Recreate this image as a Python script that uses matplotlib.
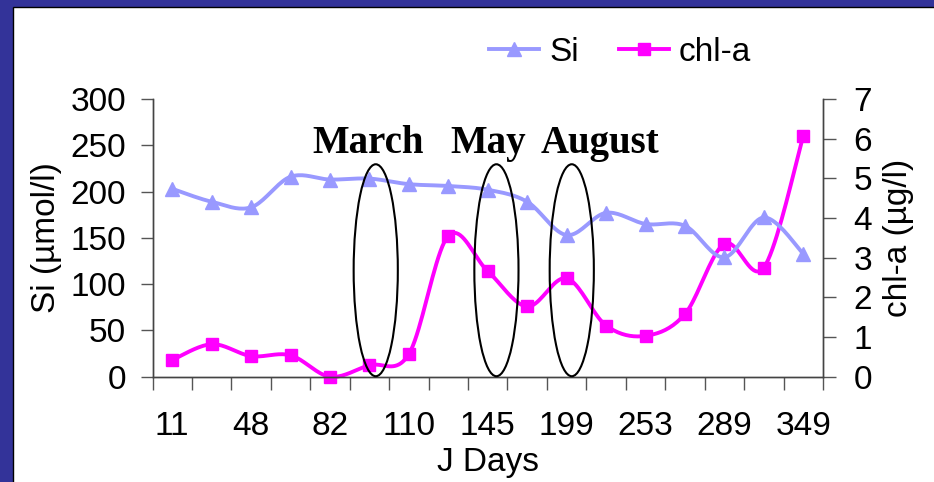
import matplotlib
matplotlib.use("Agg")
import matplotlib.pyplot as plt
from matplotlib.patches import Ellipse, Rectangle
import numpy as np

# data
days = ["11", "", "48", "", "82", "", "110", "", "145", "", "199", "", "253", "", "289", "", "349"]
si = [203, 189, 183, 216, 213, 214, 208, 206, 202, 189, 153, 177, 165, 163, 129, 172, 133]
chla = [0.42, 0.82, 0.52, 0.54, 0.0, 0.29, 0.57, 3.55, 2.66, 1.77, 2.48, 1.29, 1.03, 1.58, 3.35, 2.75, 6.07]

months = ["March", "May", "August"]
month_x = [3.55, 7.04, 9.33]
ellipse_x = [5.16, 8.22, 10.13]


def smooth(x, y, n=20):
    # Excel style smoothed line (Catmull-Rom through the points)
    p = np.column_stack([x, y]).astype(float)
    p = np.vstack([p[0], p, p[-1]])
    out = []
    for i in range(1, len(p) - 2):
        p0, p1, p2, p3 = p[i - 1], p[i], p[i + 1], p[i + 2]
        t = np.linspace(0, 1, n, endpoint=False)[:, None]
        seg = 0.5 * ((2 * p1) + (-p0 + p2) * t + (2 * p0 - 5 * p1 + 4 * p2 - p3) * t ** 2
                     + (-p0 + 3 * p1 - 3 * p2 + p3) * t ** 3)
        out.append(seg)
    out.append(p[-2][None, :])
    out = np.vstack(out)
    return out[:, 0], out[:, 1]


plt.rcParams['font.family'] = ['Liberation Sans', 'DejaVu Sans']
fs = 24

fig = plt.figure(figsize=(9.34, 4.82), dpi=100)
fig.patch.set_facecolor('#333399')
fig.patches.append(Rectangle((13 / 934, -0.1), 1, 1.1 - 7 / 482, transform=fig.transFigure,
                             facecolor='white', edgecolor='black', linewidth=1, zorder=-1))

ax = fig.add_axes([152.5 / 934, 1 - 376.7 / 482, (823 - 152.5) / 934, (376.7 - 99) / 482])
ax2 = ax.twinx()
ax.set_zorder(ax2.get_zorder() + 1)
ax.patch.set_visible(False)

x = np.arange(len(si))
si_col = '#9999FF'
chl_col = '#FF00FF'

sx, sy = smooth(x, si)
ax.plot(sx, sy, color=si_col, lw=2.8, clip_on=False)
ax.plot(x, si, ls='none', marker='^', ms=10, color=si_col, clip_on=False)

cx, cy = smooth(x, chla)
ax2.plot(cx, cy, color=chl_col, lw=2.8, clip_on=False)
ax2.plot(x, chla, ls='none', marker='s', ms=9, color=chl_col, clip_on=False)

ax.set_xlim(-0.5, len(si) - 0.5)
ax.set_ylim(0, 300)
ax2.set_ylim(0, 7)
ax.set_yticks(range(0, 301, 50))
ax2.set_yticks(range(0, 8))

ax.set_xticks(x)
ax.set_xticklabels(days)
ax.set_xticks(np.arange(-0.5, len(si)), minor=True)
ax.tick_params(axis='x', which='major', length=0, pad=25, labelsize=fs)
ax.tick_params(axis='x', which='minor', length=9, width=1, color='#555555')
ax.tick_params(axis='y', length=9, width=1, color='#555555', pad=10, labelsize=fs)
ax2.tick_params(axis='y', length=9, width=1, color='#555555', pad=13, labelsize=fs)

for a in (ax, ax2):
    a.spines['top'].set_visible(False)
    for s in ('left', 'right', 'bottom'):
        a.spines[s].set_color('#444444')
        a.spines[s].set_linewidth(1)

ax.set_ylabel("Si (µmol/l)", fontsize=fs, labelpad=6)
ax2.set_ylabel("chl-a (µg/l)", fontsize=fs, labelpad=8)
ax.set_xlabel("J Days", fontsize=fs, labelpad=3)

for name, mx in zip(months, month_x):
    ax.text(mx, 242, name, family='Liberation Serif', weight='bold', fontsize=28,
            ha='left', va='baseline')
for ex in ellipse_x:
    ax.add_patch(Ellipse((ex, 115), 1.12, 229, fill=False, edgecolor='black', lw=1.5,
                         clip_on=False, zorder=5))

h1 = plt.Line2D([], [], color=si_col, lw=2.8, marker='^', ms=10)
h2 = plt.Line2D([], [], color=chl_col, lw=2.8, marker='s', ms=9)
fig.legend([h1, h2], ["Si", "chl-a"], loc='center', bbox_to_anchor=(620 / 934, 1 - 52 / 482),
           ncol=2, frameon=False, fontsize=fs, handlelength=1.5, handletextpad=0.3,
           columnspacing=1.2, borderpad=0)

fig.savefig("out.png", dpi=100, facecolor=fig.get_facecolor())
